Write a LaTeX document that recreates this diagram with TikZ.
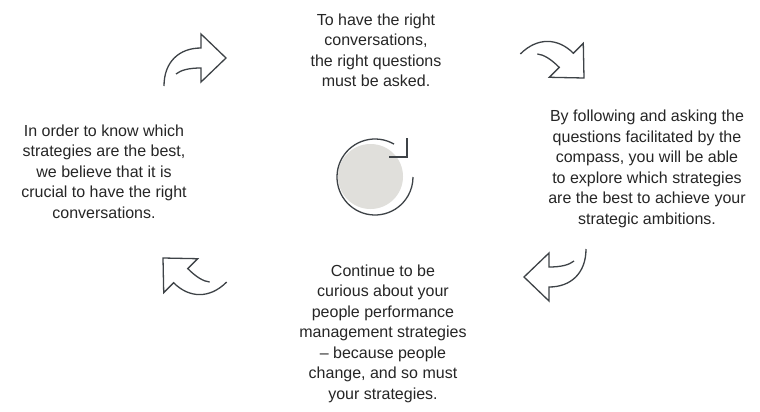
\documentclass[tikz,border=0pt]{standalone}
\usepackage{fontspec}
\setmainfont{Liberation Sans}
\usetikzlibrary{positioning}
\definecolor{IconGray}{HTML}{3E4347}
\definecolor{DiscGray}{HTML}{E0DFDB}
\definecolor{TextDark}{HTML}{262626}

\tikzset{
  cycletext/.style={align=center, inner sep=0pt, text=TextDark,
    font=\fontsize{16}{20.5}\selectfont},
  cyclearrow/.pic={
    \draw[IconGray, line width=1.3pt, line join=miter]
      (-62,28) .. controls (-62,4) and (-47,-10) .. (-25,-10)
      -- (-25,-24) -- (0,0) -- (-25,24) -- (-25,10)
      .. controls (-37,10) and (-45,12) .. (-50,16);
  }
}

\begin{document}
\begin{tikzpicture}[x=1pt, y=-1pt]
  \useasboundingbox[fill=white] (0,0) rectangle (760,412);

  % Steps of the cycle
  \node[cycletext] (ask) at (376,50.5) {To have the right\\conversations,\\the right questions\\must be asked.};
  \node[cycletext] (explore) at (647,169) {By following and asking the\\questions facilitated by the\\compass, you will be able\\to explore which strategies\\are the best to achieve your\\strategic ambitions.};
  \node[cycletext] (curious) at (383,333.5) {Continue to be\\curious about your\\people performance\\management strategies\\-- because people\\change, and so must\\your strategies.};
  \node[cycletext] (know) at (104,171.5) {In order to know which\\strategies are the best,\\we believe that it is\\crucial to have the right\\conversations.};

  % Curved arrows between the steps
  \foreach \px/\py/\rot in {226/58/0, 584/78/-45, 524/277/180, 163/258/135} {
    \pic[rotate=\rot] at (\px,\py) {cyclearrow};
  }

  % Center icon
  \fill[DiscGray] (370.5,176.5) circle (32.5pt);
  \draw[IconGray, line width=1.3pt] (375,177) ++(60:38pt) arc[start angle=60, end angle=360, radius=38pt];
  \draw[IconGray, line width=1.3pt, line join=miter] (407,138) -- (407,157) -- (389,157);
\end{tikzpicture}
\end{document}
